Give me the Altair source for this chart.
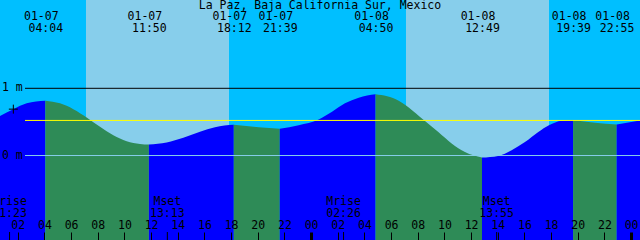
import altair as alt
import pandas as pd

title_text = "La Paz, Baja California Sur, Mexico"

# Tide extremes
tide_dates = ["01-07", "01-07", "01-07", "01-07", "01-08", "01-08", "01-08", "01-08"]
tide_times = ["04:04", "11:50", "18:12", "21:39", "04:50", "12:49", "19:39", "22:55"]
tide_kinds = ["High", "Low", "High", "Low", "High", "Low", "High", "Low"]
tide_heights = [0.815, 0.164, 0.457, 0.397, 0.91, -0.03, 0.527, 0.463]

# Tide curve readings (hours since 01-07 00:00, metres)
curve_hours = [0.667, 1.667, 2.67, 3.37, 5.167, 6.167, 7.167, 8.167, 9.167, 10.167,
               11.167, 13.167, 14.417, 15.667, 16.79, 17.5, 20.07, 23.07, 24.57,
               25.57, 26.54, 27.57, 30.57, 31.12, 31.57, 32.17, 32.54, 33.54, 34.54,
               35.54, 38.02, 39.04, 40.04, 41.04, 41.84, 42.79, 45.29, 48.667]
curve_heights = [0.587, 0.69, 0.776, 0.805, 0.776, 0.69, 0.567, 0.427, 0.30, 0.213,
                 0.173, 0.194, 0.263, 0.352, 0.42, 0.445, 0.422, 0.452, 0.537,
                 0.65, 0.776, 0.86, 0.815, 0.745, 0.675, 0.575, 0.512, 0.35, 0.18,
                 0.054, -0.006, 0.08, 0.20, 0.35, 0.45, 0.516, 0.487, 0.52]

# Sun
sun_dates = ["01-07", "01-08"]
sunrise_times = ["07:07", "07:07"]
sunset_times = ["17:50", "17:50"]

# Moon
moon_dates = ["01-07", "01-07", "01-08", "01-08"]
moon_events = ["Mrise", "Mset", "Mrise", "Mset"]
moon_times = ["01:23", "13:13", "02:26", "13:55"]

# Reference levels
level_values = [1, 0]
level_labels = ["1 m", "0 m"]
level_kinds = ["one", "zero"]
msl_value = 0.522

# Current-time marker
marker_hours = [1.667]
marker_heights = [0.69]

hour_ticks = [2, 4, 6, 8, 10, 12, 14, 16, 18, 20, 22, 24,
              26, 28, 30, 32, 34, 36, 38, 40, 42, 44, 46, 48]
x_domain = [0.667, 48.667]
y_domain = [-1.257, 2.314]


def to_hours(date, time):
    day = int(date[3:]) - 7
    hh, mm = time.split(":")
    return day * 24 + int(hh) + int(mm) / 60.0


FONT = "DejaVu Sans Mono"
FS = 11.5

xscale = alt.Scale(domain=x_domain, nice=False, zero=False)
yscale = alt.Scale(domain=y_domain, nice=False, zero=False)
x_axis = alt.Axis(
    values=hour_ticks,
    labelExpr="(datum.value % 24 < 10 ? '0' : '') + (datum.value % 24)",
    orient="bottom", offset=-8, domain=False, grid=False,
    tickSize=8, tickColor="black",
    tickWidth={"condition": {"test": "datum.value % 24 === 0", "value": 3}, "value": 1},
    labelFont=FONT, labelFontSize=FS, labelColor="black",
    labelPadding=-15, labelBaseline="middle", labelAlign="center",
    labelOverlap=False, labelFlush=False, labelBound=False,
    title=None, zindex=1,
)

# sky intervals
sr = [to_hours(d, t) for d, t in zip(sun_dates, sunrise_times)]
ss = [to_hours(d, t) for d, t in zip(sun_dates, sunset_times)]
sky_rows = []
prev = x_domain[0]
for a, b in zip(sr, ss):
    sky_rows.append({"start": prev, "end": a, "kind": "night"})
    sky_rows.append({"start": a, "end": b, "kind": "day"})
    prev = b
sky_rows.append({"start": prev, "end": x_domain[1], "kind": "night"})
sky_df = pd.DataFrame(sky_rows)

# tide events
ev_t = [to_hours(d, t) for d, t in zip(tide_dates, tide_times)]
ev_df = pd.DataFrame({"t": ev_t, "date": tide_dates, "time": tide_times})

# water segments between extremes
rows = []
for t, h in zip(curve_hours, curve_heights):
    seg = sum(1 for e in ev_t if e < t)
    rows.append({"t": t, "h": h, "seg": seg})
for i, (t, h) in enumerate(zip(ev_t, tide_heights)):
    rows.append({"t": t, "h": h, "seg": i})
    rows.append({"t": t, "h": h, "seg": i + 1})


def phase_of(seg):
    if seg < len(tide_kinds):
        return "rising" if tide_kinds[seg] == "High" else "falling"
    return "rising" if tide_kinds[-1] == "Low" else "falling"


for r in rows:
    r["phase"] = phase_of(r["seg"])
water_df = pd.DataFrame(rows).sort_values(["seg", "t"])

moon_t = [to_hours(d, t) for d, t in zip(moon_dates, moon_times)]
moon_df = pd.DataFrame({"t": moon_t, "event": moon_events, "time": moon_times})

level_df = pd.DataFrame({"v": level_values + [msl_value],
                         "label": level_labels + [""],
                         "kind": level_kinds + ["msl"]})

X = lambda f: alt.X(f, type="quantitative", scale=xscale, axis=x_axis)

sky = alt.Chart(sky_df).mark_rect(clip=True).encode(
    x=X("start"), x2="end",
    y=alt.value(0), y2=alt.value(240),
    color=alt.Color("kind:N", scale=alt.Scale(domain=["day", "night"],
                                              range=["#87CEEB", "#00BFFF"]), legend=None),
)

water = alt.Chart(water_df).mark_area(interpolate="monotone", clip=True).encode(
    x=X("t"),
    y=alt.Y("h:Q", scale=yscale, stack=None, axis=None),
    y2=alt.value(240),
    color=alt.Color("phase:N", scale=alt.Scale(domain=["rising", "falling"],
                                               range=["#0000FF", "#2E8B57"]), legend=None),
    detail="seg:N",
)

levels = alt.Chart(level_df).mark_rule(strokeWidth=1).encode(
    x=alt.value(25), x2=alt.value(640),
    y=alt.Y("v:Q", scale=yscale, axis=None),
    color=alt.Color("kind:N", scale=alt.Scale(domain=["one", "zero", "msl"],
                                              range=["#000000", "#87CEEB", "#FFFF00"]), legend=None),
)

level_text = alt.Chart(level_df[level_df["label"] != ""]).mark_text(
    align="left", baseline="middle", font=FONT, fontSize=FS, color="black"
).encode(
    x=alt.value(2),
    y=alt.Y("v:Q", scale=yscale, axis=None),
    text="label:N",
)

marker = alt.Chart(pd.DataFrame({"t": marker_hours, "h": marker_heights})).mark_point(
    shape="M-1,0H1M0,-1V1", size=81, filled=False, stroke="black", strokeWidth=1, opacity=1
).encode(
    x=X("t"),
    y=alt.Y("h:Q", scale=yscale, axis=None),
)

ev_date = alt.Chart(ev_df).mark_text(
    align="center", baseline="middle", font=FONT, fontSize=FS, color="black", dx=-4
).encode(x=X("t"), y=alt.value(17), text="date:N")

ev_time = alt.Chart(ev_df).mark_text(
    align="center", baseline="middle", font=FONT, fontSize=FS, color="black", dx=0.5
).encode(x=X("t"), y=alt.value(29), text="time:N")

moon_name = alt.Chart(moon_df).mark_text(
    align="center", baseline="middle", font=FONT, fontSize=FS, color="black"
).encode(x=X("t"), y=alt.value(202), text="event:N")

moon_time = alt.Chart(moon_df).mark_text(
    align="center", baseline="middle", font=FONT, fontSize=FS, color="black"
).encode(x=X("t"), y=alt.value(213.5), text="time:N")

moon_ticks = alt.Chart(moon_df).mark_rule(color="black", strokeWidth=1).encode(
    x=X("t"), y=alt.value(232), y2=alt.value(240)
)

title = alt.Chart(pd.DataFrame({"label": [title_text]})).mark_text(
    align="center", baseline="middle", font=FONT, fontSize=FS, color="black"
).encode(x=alt.value(320), y=alt.value(6), text="label:N")

chart = alt.layer(
    sky, water, levels, level_text, marker, ev_date, ev_time,
    moon_name, moon_time, moon_ticks, title
).resolve_scale(color="independent").properties(
    width=640, height=240, padding=0, autosize=alt.AutoSizeParams(type="none")
).configure_view(stroke=None)

chart.save("out.html", embed_options={"renderer": "svg", "actions": False})
